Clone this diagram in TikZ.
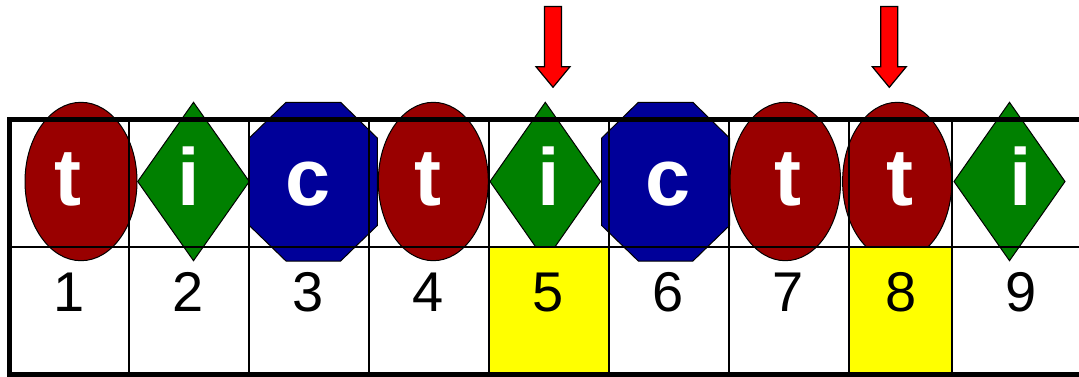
\documentclass[tikz,border=0pt]{standalone}
\usepackage{fontspec}
\setmainfont{Liberation Sans}
\definecolor{tred}{HTML}{990000}
\definecolor{igreen}{HTML}{008000}
\definecolor{cblue}{HTML}{000099}
\definecolor{hyellow}{HTML}{FFFF00}
\definecolor{arrred}{HTML}{FF0000}
\begin{document}
\begin{tikzpicture}[x=1pt,y=-1pt,
  shp/.style={draw=black,line width=1pt},
  tshape/.style={shp,fill=tred},
  ishape/.style={shp,fill=igreen},
  cshape/.style={shp,fill=cblue},
  hl/.style={fill=hyellow},
  grid/.style={draw=black,line width=1.7pt},
  frame/.style={draw=black,line width=5pt},
  arr/.style={draw=black,line width=1.2pt,fill=arrred,line join=miter},
  letter/.style={anchor=base,inner sep=0pt,text=white,font=\fontsize{81}{81}\selectfont\bfseries},
  digit/.style={anchor=base,inner sep=0pt,text=black,font=\fontsize{56}{56}\selectfont}]
\useasboundingbox (0,0) rectangle (1079,376);
% arrows
\draw[arr] (544.5,6.5) -- (561.5,6.5) -- (561.5,66.7) -- (570,66.7) -- (553,87.3) -- (536,66.7) -- (544.5,66.7) -- cycle;
\draw[arr] (880.8,6.5) -- (897.8,6.5) -- (897.8,66.7) -- (906.3,66.7) -- (889.3,87.3) -- (872.3,66.7) -- (880.8,66.7) -- cycle;
% shapes
\draw[tshape] (81,181.5) ellipse [x radius=56,y radius=79.2];
\draw[ishape] (137.7,181.5) -- (193.5,102.3) -- (249.3,181.5) -- (193.5,260.7) -- cycle;
\draw[cshape] (249.3,138) -- (286,102.3) -- (340.6,102.3) -- (377.3,138) -- (377.3,225.5) -- (340.6,261) -- (286,261) -- (249.3,225.5) -- cycle;
\draw[tshape] (433.3,181.5) ellipse [x radius=55,y radius=79.2];
\draw[ishape] (490,181.5) -- (545.3,102.3) -- (600.6,181.5) -- (545.3,260.7) -- cycle;
\draw[cshape] (601.7,138) -- (638.3,102.3) -- (692.9,102.3) -- (729.5,138) -- (729.5,225.5) -- (692.9,261) -- (638.3,261) -- (601.7,225.5) -- cycle;
\draw[tshape] (785.3,181.5) ellipse [x radius=55.3,y radius=79.2];
\draw[tshape] (897.2,181.5) ellipse [x radius=54.6,y radius=79.2];
\draw[ishape] (954,181.5) -- (1009.5,102.3) -- (1065,181.5) -- (1009.5,260.7) -- cycle;
% highlighted cells
\fill[hl] (489,247) rectangle (609,374);
\fill[hl] (849,247) rectangle (952,374);
% grid
\foreach \gx in {129,249,369,489,609,729,849,952} \draw[grid] (\gx,119) -- (\gx,374);
\draw[grid] (9.5,247) -- (1079,247);
% frame
\draw[frame] (1079,119) -- (9.5,119) -- (9.5,374) -- (1079,374);
% letters
\node[letter] (l1) at (68,205) {t};
\node[letter] (l2) at (189,205) {i};
\node[letter] (l3) at (308,205) {c};
\node[letter] (l4) at (428.3,205) {t};
\node[letter] (l5) at (549,205) {i};
\node[letter] (l6) at (668,205) {c};
\node[letter] (l7) at (788,205) {t};
\node[letter] (l8) at (900,205) {t};
\node[letter] (l9) at (1021,205) {i};
% digits
\node[digit] (d1) at (69,311.7) {1};
\node[digit] (d2) at (188,311.7) {2};
\node[digit] (d3) at (308,311.7) {3};
\node[digit] (d4) at (428,311.7) {4};
\node[digit] (d5) at (548,311.7) {5};
\node[digit] (d6) at (668,311.7) {6};
\node[digit] (d7) at (788,311.7) {7};
\node[digit] (d8) at (901,311.7) {8};
\node[digit] (d9) at (1021,311.7) {9};
\end{tikzpicture}
\end{document}
